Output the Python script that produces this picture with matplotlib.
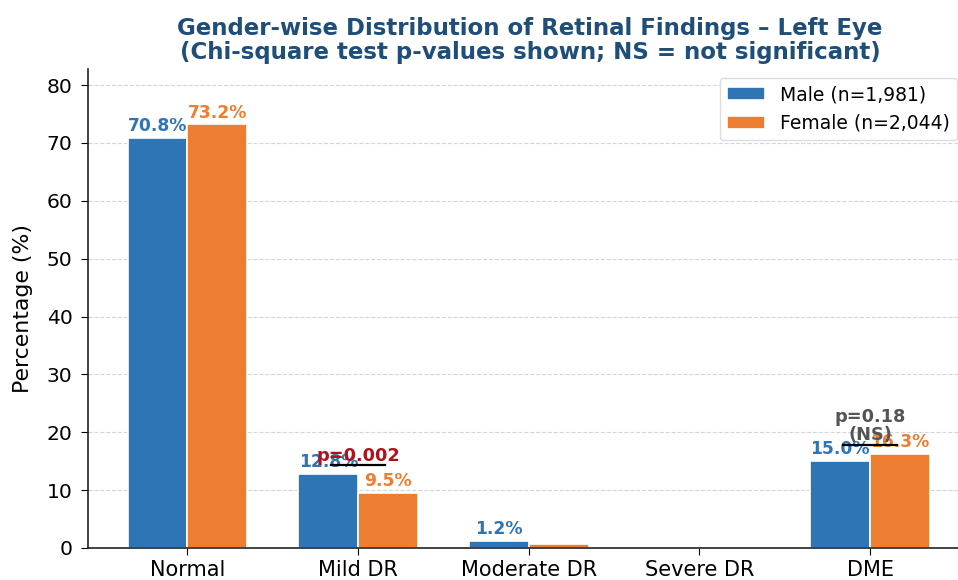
import matplotlib
matplotlib.use("Agg")
import matplotlib.pyplot as plt
import numpy as np

categories = ["Normal", "Mild DR", "Moderate DR", "Severe DR", "DME"]
male_pct = [70.8, 12.8, 1.2, 0.0, 15.0]
female_pct = [73.2, 9.5, 0.7, 0.0, 16.3]
male_label = "Male (n=1,981)"
female_label = "Female (n=2,044)"
# chi-square p-values: (category index, text, significant)
p_values = [(1, "p=0.002", True), (4, "p=0.18\n(NS)", False)]

male_color = "#2E75B6"
female_color = "#ED7D31"

fig = plt.figure(figsize=(9.58, 5.8), dpi=100)
ax = fig.add_axes([88 / 958, 0.0552, 882 / 958, 0.8250])

x = np.arange(len(categories))
w = 0.35
ax.bar(x - w / 2, male_pct, w, color=male_color, edgecolor="white", linewidth=1.2,
       label=male_label, zorder=3)
ax.bar(x + w / 2, female_pct, w, color=female_color, edgecolor="white", linewidth=1.2,
       label=female_label, zorder=3)

for xi, v in zip(x, male_pct):
    if v >= 1:
        ax.text(xi - w / 2, v + 0.5, f"{v:.1f}%", ha="center", va="bottom",
                fontsize=12.3, fontweight="bold", color=male_color, zorder=4)
for xi, v in zip(x, female_pct):
    if v >= 1:
        ax.text(xi + w / 2, v + 0.5, f"{v:.1f}%", ha="center", va="bottom",
                fontsize=12.3, fontweight="bold", color=female_color, zorder=4)

for idx, txt, sig in p_values:
    y = max(male_pct[idx], female_pct[idx]) + 1.5
    ax.plot([idx - 0.16, idx + 0.16], [y, y], color="black", linewidth=1.6, zorder=5)
    ax.text(idx, y + 0.1, txt, ha="center", va="bottom", fontsize=12.8, fontweight="bold",
            color="#B0121B" if sig else "#555555", zorder=6, linespacing=1.05)

ax.set_xticks(x)
ax.set_xticklabels(categories, fontsize=15)
ax.set_xlim(-0.583, 4.585)
ax.set_ylim(0, 82.7)
ax.set_yticks(np.arange(0, 81, 10))
ax.tick_params(axis="y", labelsize=14.6, pad=6)
ax.tick_params(axis="both", length=5)
ax.set_ylabel("Percentage (%)", fontsize=15.8, labelpad=10)
ax.yaxis.grid(True, linestyle="--", color="#cccccc", alpha=0.8, zorder=0)
ax.set_axisbelow(True)
for s in ["top", "right"]:
    ax.spines[s].set_visible(False)
for s in ["left", "bottom"]:
    ax.spines[s].set_color("#222222")
    ax.spines[s].set_linewidth(1.2)
    ax.spines[s].set_zorder(4)

fig.text(530 / 958, 1 - 17 / 580,
         "Gender-wise Distribution of Retinal Findings – Left Eye\n"
         "(Chi-square test p-values shown; NS = not significant)",
         ha="center", va="top", fontsize=16.5, fontweight="bold", color="#1F4E79",
         linespacing=1.05)
ax.legend(loc="upper right", bbox_to_anchor=(957 / 958, 1 - 78 / 580),
          bbox_transform=fig.transFigure, borderaxespad=0, fontsize=13.5,
          framealpha=1, edgecolor="#dddddd", fancybox=True)

fig.savefig("out.png", dpi=100)
